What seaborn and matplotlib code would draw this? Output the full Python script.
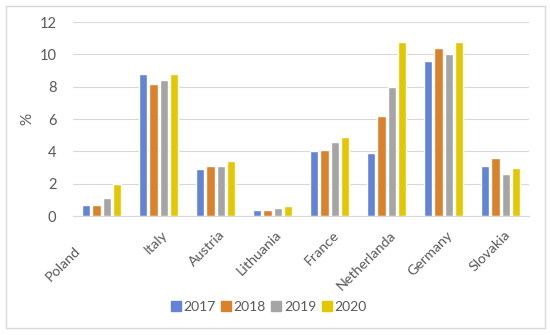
import matplotlib
matplotlib.use("Agg")
import matplotlib.pyplot as plt
import matplotlib.transforms as mtransforms
import seaborn as sns
import pandas as pd
from matplotlib.patches import Rectangle
from matplotlib.lines import Line2D

countries = ["Poland", "Italy", "Austria", "Lithuania", "France", "Netherlanda", "Germany", "Slovakia"]
years = ["2017", "2018", "2019", "2020"]
v2017 = [0.7, 8.8, 2.9, 0.4, 4.0, 3.9, 9.6, 3.1]
v2018 = [0.7, 8.2, 3.1, 0.4, 4.1, 6.2, 10.4, 3.6]
v2019 = [1.1, 8.4, 3.1, 0.5, 4.6, 8.0, 10.0, 2.6]
v2020 = [2.0, 8.8, 3.4, 0.6, 4.9, 10.8, 10.8, 3.0]
yticks = [0, 2, 4, 6, 8, 10, 12]

rows = []
for y, vals in zip(years, [v2017, v2018, v2019, v2020]):
    for c, v in zip(countries, vals):
        rows.append({"country": c, "year": y, "value": v})
df = pd.DataFrame(rows)

colors = ["#6283D6", "#D9822B", "#A5A5A5", "#E3C800"]

sns.set_style("white")
plt.rcParams["font.family"] = ["Lato", "DejaVu Sans"]

fig = plt.figure(figsize=(5.5, 3.35), dpi=100)
ax = fig.add_axes([0.133, 0.355, 0.829, 0.579])
sns.barplot(data=df, x="country", y="value", hue="year", palette=colors,
            width=0.72, gap=0.2, ax=ax, legend=False, saturation=1)

ax.set_ylim(0, 12)
ax.set_xlim(-0.5, len(countries) - 0.5)
ax.set_yticks(yticks)
ax.set_yticklabels([str(t) for t in yticks], fontsize=10.5, color="#595959")
ax.yaxis.grid(True, color="#D9D9D9", linewidth=0.8)
ax.set_axisbelow(True)
for s in ["top", "right", "left"]:
    ax.spines[s].set_visible(False)
ax.spines["bottom"].set_color("#D9D9D9")
ax.tick_params(axis="x", length=0, pad=9)
ax.tick_params(axis="y", length=0, pad=12)
ax.set_xlabel("")
ax.set_ylabel("%", fontsize=11, color="#595959", labelpad=4)
ax.set_xticks(range(len(countries)))
labels = ax.set_xticklabels(countries, rotation=45, ha="right", rotation_mode="anchor",
                            fontsize=10.3, color="#595959")
base = mtransforms.ScaledTranslation(0.03, 0, fig.dpi_scale_trans)
for i, lab in enumerate(labels):
    if i == 0:
        off = mtransforms.ScaledTranslation(-0.28, -0.16, fig.dpi_scale_trans)
    else:
        off = base
    lab.set_transform(lab.get_transform() + off)

handles = [Line2D([0], [0], marker="s", linestyle="", markersize=6.5,
                  markerfacecolor=c, markeredgecolor=c) for c in colors]
fig.legend(handles, years, loc="center", bbox_to_anchor=(0.49, 0.083), ncol=4,
           frameon=False, fontsize=10, handlelength=0.5, handletextpad=0.3,
           columnspacing=0.5, labelcolor="#595959")

fig.patches.append(Rectangle((0.011, 0.02), 0.98, 0.962, transform=fig.transFigure,
                             fill=False, edgecolor="#D9D9D9", linewidth=1))

fig.savefig("out.png", dpi=100)
